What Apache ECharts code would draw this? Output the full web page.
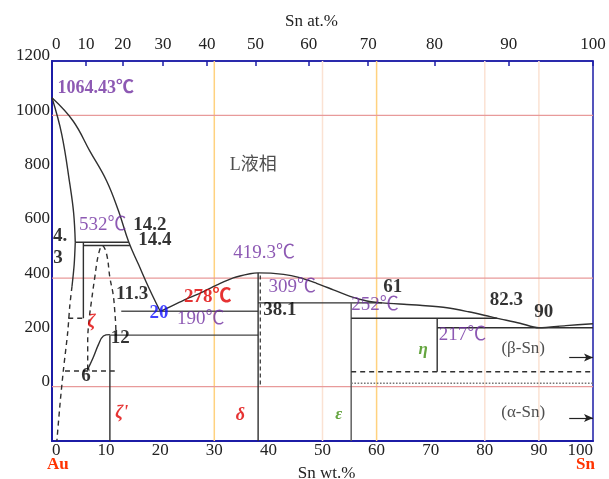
<!DOCTYPE html>
<html>
<head>
<meta charset="utf-8">
<script src="https://cdn.jsdelivr.net/npm/echarts@6/dist/echarts.min.js"></script>
<style>
html,body{margin:0;padding:0;background:#fff}
#chart{width:609px;height:479px}
</style>
</head>
<body>
<div id="chart"></div>
<script>
// Au–Sn binary phase diagram: temperature (°C) against Sn content (wt.%)

// ---- axis ticks ----
const wtTicks = [0, 10, 20, 30, 40, 50, 60, 70, 80, 90, 100];
const atTicks = [0, 10, 20, 30, 40, 50, 60, 70, 80, 90, 100];
const tempTicks = [0, 200, 400, 600, 800, 1000, 1200];

// ---- phase boundaries, [Sn wt.%, °C] ----
const liquidusAu = [[0, 1064.43], [3.9, 979], [7.0, 868], [10.1, 758], [12.3, 647], [14.2, 532], [16, 450], [18, 360], [20, 278]];
const solidusAu = [[0, 1064.43], [1.8, 930], [3.3, 746], [4.0, 640], [4.3, 532]];
const solvusAuSolid = [[4.3, 532], [4.1, 450], [3.7, 370]];
const solvusAuDashed = [[3.7, 370], [3.3, 300], [2.9, 200], [2.1, 60], [1.5, -60], [0.9, -200]];
const zetaLeftEdge = [[5.8, 532], [5.8, 252]];
const zetaLowerDashed = [[3.0, 252], [5.8, 252]];
const peritectic532 = [[4.3, 532], [14.2, 532]];
const line520 = [[5.8, 520], [14.4, 520]];
const zetaPrimeDome = [[6.6, 64], [6.6, 168], [6.9, 254], [7.3, 316], [7.9, 402], [8.6, 488], [9.3, 520], [10.1, 488], [10.7, 402], [11.3, 340], [11.6, 279], [11.8, 205], [11.8, 190]];
const zetaPrimeSolvus = [[6.5, 60], [7.6, 107], [8.6, 156], [9.5, 187], [10.7, 192]];
const line58 = [[2.4, 58], [11.6, 58]];
const zetaPrimeLine = [[10.7, 190], [10.7, -200]];
const eutectic278 = [[12.8, 278], [38.1, 278]];
const line190 = [[10.7, 190], [38.1, 190]];
const liquidusSn = [[20, 278], [20.9, 286], [24.3, 318], [27.4, 345], [30.4, 374], [33.5, 401], [36.6, 416], [38.1, 419.3], [42.8, 414], [45.8, 402], [48.9, 381], [52, 357], [55.1, 333], [58.2, 316], [61, 309], [65.6, 303], [68, 300], [73, 291], [77, 276], [81, 258], [82.3, 252], [86.5, 234], [90, 217], [95, 225], [100, 232]];
const deltaLine = [[38.1, 419.3], [38.1, -200]];
const deltaDashed = [[38.5, 410], [38.5, 0]];
const peritectic309 = [[38.1, 309], [61, 309]];
const epsilonLine = [[55.3, 309], [55.3, -200]];
const peritectic252 = [[55.3, 252], [82.3, 252]];
const etaLine = [[71.2, 252], [71.2, 55]];
const eutectic217 = [[71.2, 217], [100, 217]];
const line55 = [[55.3, 55], [100, 55]];
const tinTransition = [[55.3, 13], [100, 13]];

// ---- reference lines ----
const orangeGuides = [30, 60];
const pinkGuides = [50, 80, 90];
const redGuides = [1000, 400, 0];

// ---- styling ----
const SERIF = "'Liberation Serif','Times New Roman','Noto Sans CJK SC',serif";
const AXIS_BLUE = '#1c1ca6';
const PURPLE = '#7030a0';
const RED = '#e00000';
const GREEN = '#3f8f10';

// atomic % Sn -> weight % Sn
const toWt = at => 100 * at * 118.71 / (at * 118.71 + (100 - at) * 196.97);
const atAsWt = atTicks.map(toWt);

function curve(data, opt) {
  opt = opt || {};
  return {
    type: 'line', data: data, symbol: 'none', silent: true, animation: false,
    smooth: opt.smooth || false, z: opt.z || 5,
    lineStyle: { color: opt.color || '#303030', width: opt.width || 1.4, type: opt.type || 'solid' }
  };
}

const series = [];
orangeGuides.forEach(x => series.push(curve([[x, -200], [x, 1200]], { color: '#ffd27f', width: 1.5, z: 1 })));
pinkGuides.forEach(x => series.push(curve([[x, -200], [x, 1200]], { color: '#fbe2d3', width: 1.5, z: 1 })));
redGuides.forEach(y => series.push(curve([[0, y], [100, y]], { color: '#e89a9a', width: 1.2, z: 1 })));

series.push(curve(liquidusAu, { smooth: 0.4 }));
series.push(curve(solidusAu, { smooth: 0.4 }));
series.push(curve(solvusAuSolid, { smooth: 0.3 }));
series.push(curve(solvusAuDashed, { smooth: 0.3, type: [5, 4] }));
series.push(curve(zetaLeftEdge));
series.push(curve(zetaLowerDashed, { type: [5, 4] }));
series.push(curve(peritectic532));
series.push(curve(line520));
series.push(curve(zetaPrimeDome, { smooth: 0.4, type: [5, 4] }));
series.push(curve(zetaPrimeSolvus, { smooth: 0.4 }));
series.push(curve(line58, { type: [5, 4] }));
series.push(curve(zetaPrimeLine));
series.push(curve(eutectic278, { color: '#555' }));
series.push(curve(line190, { color: '#444' }));
series.push(curve(liquidusSn, { smooth: 0.3 }));
series.push(curve(deltaLine));
series.push(curve(deltaDashed, { type: [4, 3], width: 1.2 }));
series.push(curve(peritectic309));
series.push(curve(epsilonLine, { color: '#555' }));
series.push(curve(peritectic252));
series.push(curve(etaLine));
series.push(curve(eutectic217));
series.push(curve(line55, { type: [5, 4] }));
series.push(curve(tinTransition, { type: 'dotted', color: '#777', width: 1.6 }));

// arrows pointing to pure Sn
series.push({
  type: 'line', data: [], silent: true, animation: false,
  markLine: {
    silent: true, animation: false, symbol: ['none', 'arrow'], symbolSize: [6, 9],
    label: { show: false },
    lineStyle: { color: '#222', width: 1.2, type: 'solid' },
    data: [
      [{ coord: [95.6, 108] }, { coord: [100, 108] }],
      [{ coord: [95.6, -115] }, { coord: [100, -115] }]
    ]
  }
});

// text annotations placed in data units
const styles = {
  temp: { color: PURPLE, fontSize: 19 },
  tempBold: { color: PURPLE, fontSize: 18, fontWeight: 'bold' },
  redTemp: { color: RED, fontSize: 19, fontWeight: 'bold' },
  comp: { color: '#000', fontSize: 19, fontWeight: 'bold' },
  blue: { color: '#1010ff', fontSize: 19, fontWeight: 'bold' },
  redPhase: { color: RED, fontSize: 18, fontStyle: 'italic', fontWeight: 'bold' },
  greenPhase: { color: GREEN, fontSize: 17, fontStyle: 'italic', fontWeight: 'bold' },
  plain: { color: '#222', fontSize: 17 },
  region: { color: '#222', fontSize: 18 }
};
const notes = [
  [8.1, 1100, '1064.43℃', 'tempBold'],
  [37.2, 817, 'L液相', 'region'],
  [9.4, 596, '532℃', 'temp'],
  [18.1, 596, '14.2', 'comp'],
  [19.0, 540, '14.4', 'comp'],
  [1.5, 555, '4.', 'comp'],
  [1.1, 475, '3', 'comp'],
  [14.8, 341, '11.3', 'comp'],
  [19.8, 270, '20', 'blue'],
  [28.8, 329, '278℃', 'redTemp'],
  [27.5, 249, '190℃', 'temp'],
  [39.2, 491, '419.3℃', 'temp'],
  [44.4, 366, '309℃', 'temp'],
  [42.1, 282, '38.1', 'comp'],
  [59.7, 301, '252℃', 'temp'],
  [63.0, 368, '61', 'comp'],
  [84.0, 319, '82.3', 'comp'],
  [90.9, 276, '90', 'comp'],
  [75.9, 190, '217℃', 'temp'],
  [68.6, 135, 'η', 'greenPhase'],
  [53.0, -104, 'ε', 'greenPhase'],
  [34.8, -104, 'δ', 'redPhase'],
  [12.9, -98, 'ζ\'', 'redPhase'],
  [7.3, 238, 'ζ', 'redPhase'],
  [12.6, 178, '12', 'comp'],
  [6.3, 39, '6', 'comp'],
  [87.1, 139, '(β-Sn)', 'plain'],
  [87.1, -96, '(α-Sn)', 'plain']
];
series.push({
  type: 'scatter', silent: true, animation: false, symbolSize: 0, z: 10,
  data: notes.map(n => ({
    value: [n[0], n[1]],
    label: Object.assign({
      show: true, position: 'inside', formatter: n[2], fontFamily: SERIF
    }, styles[n[3]])
  }))
});

const chart = echarts.init(document.getElementById('chart'), null, { renderer: 'canvas' });
chart.setOption({
  animation: false,
  backgroundColor: '#fff',
  textStyle: { fontFamily: SERIF },
  grid: {
    left: 52, right: 16, top: 61, bottom: 38,
    outerBoundsMode: 'none', containLabel: false,
    show: true, borderColor: AXIS_BLUE, borderWidth: 1.5, backgroundColor: 'transparent'
  },
  xAxis: [
    {
      type: 'value', position: 'bottom', min: 0, max: 100, interval: 10,
      name: 'Sn wt.%', nameLocation: 'middle', nameGap: 24,
      nameTextStyle: { fontFamily: SERIF, fontSize: 17, color: '#222', padding: [0, 0, 0, 8] },
      axisLine: { show: true, onZero: false, lineStyle: { color: AXIS_BLUE, width: 2 } },
      axisTick: { show: false },
      splitLine: { show: false },
      axisLabel: {
        fontFamily: SERIF, fontSize: 17, color: '#222', margin: 1,
        alignMinLabel: 'left', alignMaxLabel: 'right',
        customValues: wtTicks
      }
    },
    {
      type: 'value', position: 'top', min: 0, max: 100,
      name: 'Sn at.%', nameLocation: 'middle', nameGap: 31,
      nameTextStyle: { fontFamily: SERIF, fontSize: 17, color: '#222', padding: [0, 22, 0, 0] },
      axisLine: { show: true, onZero: false, lineStyle: { color: AXIS_BLUE, width: 1.5 } },
      axisTick: { show: true, inside: true, length: 5, customValues: atAsWt, lineStyle: { color: AXIS_BLUE, width: 1.5 } },
      splitLine: { show: false },
      axisLabel: {
        fontFamily: SERIF, fontSize: 17, color: '#222', margin: 8,
        alignMinLabel: 'left',
        customValues: atAsWt,
        formatter: v => {
          const i = atAsWt.findIndex(w => Math.abs(w - v) < 1e-6);
          return i >= 0 ? String(atTicks[i]) : '';
        }
      }
    }
  ],
  yAxis: {
    type: 'value', min: -200, max: 1200, interval: 200,
    axisLine: { show: true, onZero: false, lineStyle: { color: AXIS_BLUE, width: 2 } },
    axisTick: { show: false },
    splitLine: { show: false },
    axisLabel: {
      fontFamily: SERIF, fontSize: 17, color: '#222', margin: 2,
      verticalAlign: 'bottom', lineHeight: 10,
      customValues: tempTicks,
      formatter: v => String(v)
    }
  },
  graphic: [
    { type: 'text', left: 47, top: 456, style: { text: 'Au', fill: '#ff3300', font: "bold 17px 'Liberation Serif', serif" } },
    { type: 'text', left: 576, top: 456, style: { text: 'Sn', fill: '#ff3300', font: "bold 17px 'Liberation Serif', serif" } }
  ],
  series: series
});
</script>
</body>
</html>
